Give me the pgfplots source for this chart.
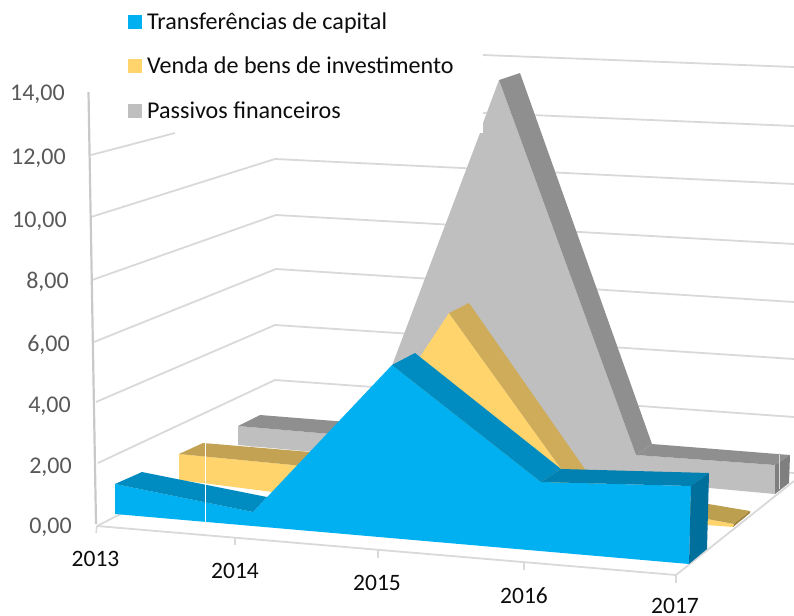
\documentclass[border=0pt]{standalone}
\usepackage{pgfplots}
\pgfplotsset{compat=1.18}
\usepackage{fontspec}
\setmainfont{Carlito}
\definecolor{gridc}{HTML}{D9D9D9}
\definecolor{axisl}{HTML}{C9C9C9}
\definecolor{lab}{HTML}{595959}
\definecolor{txt}{HTML}{0D0D0D}
\definecolor{gF}{HTML}{BFBFBF}
\definecolor{gT}{HTML}{8F8F8F}
\definecolor{gE}{HTML}{7F7F7F}
\definecolor{yF}{HTML}{FFD46C}
\definecolor{yT}{HTML}{C4A253}
\definecolor{yP}{HTML}{CEAC59}
\definecolor{yE}{HTML}{BDA04F}
\definecolor{yD}{HTML}{9C803A}
\definecolor{bF}{HTML}{00B0F0}
\definecolor{bT}{HTML}{008CC0}
\definecolor{bR}{HTML}{0081B1}
\definecolor{bE}{HTML}{006F9C}
\begin{document}
\begin{tikzpicture}
\useasboundingbox (0,0) rectangle (794pt,615pt);
\begin{axis}[at={(0,0)},anchor=south west,scale only axis,width=794pt,height=615pt,
  xmin=0,xmax=794,ymin=0,ymax=615,y dir=reverse,hide axis,no markers,clip mode=global,
  every axis plot/.append style={line join=round}]
% gridlines: left wall and back wall
\addplot[gridc,line width=1.8pt] coordinates {(91,155)(175,133)};
\addplot[gridc,line width=1.8pt] coordinates {(91,217)(275,159)(794,184)};
\addplot[gridc,line width=1.8pt] coordinates {(92,280)(276,215)(794,244)};
\addplot[gridc,line width=1.8pt] coordinates {(94,342)(276,269)(794,302)};
\addplot[gridc,line width=1.8pt] coordinates {(96,402)(275,325)(794,359)};
\addplot[gridc,line width=1.8pt] coordinates {(98,463)(275,380)(794,417)};
\addplot[gridc,line width=1.8pt] coordinates {(483,55)(794,67)};
\addplot[gridc,line width=1.8pt] coordinates {(483,113)(794,126)};
\addplot[gridc,line width=1.8pt] coordinates {(275,435)(794,473)};
% floor and axes
\addplot[gridc,line width=1.8pt] coordinates {(97,526)(275,435)};
\addplot[gridc,line width=1.8pt] coordinates {(794,481)(676,575)};
\addplot[gridc,line width=1.8pt] coordinates {(97,526)(676,575)};
\addplot[gridc,line width=1.5pt] coordinates {(97,526)(96,533)};
\addplot[gridc,line width=1.5pt] coordinates {(235,538)(235,545)};
\addplot[gridc,line width=1.5pt] coordinates {(378,550)(378,558)};
\addplot[gridc,line width=1.5pt] coordinates {(524,563)(524,570)};
\addplot[gridc,line width=1.5pt] coordinates {(676,575)(676,583)};
\addplot[axisl,line width=2.2pt] coordinates {(88.5,92)(96,524)};
% Passivos financeiros
\addplot[draw=none,fill=gF] coordinates {(238,445)(238,426)(365,437)(480,133)(483,133)(483,123)(499,80)(636,455)(775,465)(775,494)} --cycle;
\addplot[draw=none,fill=gT] coordinates {(238,426)(260,415)(385,425)(365,437)} --cycle;
\addplot[draw=none,fill=gT] coordinates {(499,80)(520,73)(652,444)(636,455)} --cycle;
\addplot[draw=none,fill=gT] coordinates {(636,455)(652,444)(790,455)(775,465)} --cycle;
\addplot[draw=none,fill=gE] coordinates {(775,465)(790,455)(789,483)(775,494)} --cycle;
% Venda de bens de investimento
\addplot[draw=none,fill=yF] coordinates {(179,480)(179,454)(345,470)(449,313)(580,495)(734,524)(733,527)(273,492)} --cycle;
\addplot[draw=none,fill=yT] coordinates {(179,454)(203,443)(370,457)(345,470)} --cycle;
\addplot[draw=none,fill=yP] coordinates {(449,313)(469,303)(596,485)(580,495)} --cycle;
\addplot[draw=none,fill=yE] coordinates {(580,495)(596,485)(750,511)(734,524)} --cycle;
\addplot[draw=none,fill=yD] coordinates {(734,524)(750,511)(750,513)(733,527)} --cycle;
% Transferências de capital
\addplot[draw=none,fill=bF] coordinates {(115,514)(115,484)(253,512)(392,365)(541,482)(691,486)(689,564)} --cycle;
\addplot[draw=none,fill=bT] coordinates {(115,484)(142,472)(267,497)(253,512)} --cycle;
\addplot[draw=none,fill=bT] coordinates {(392,365)(415,353)(561,469)(541,482)} --cycle;
\addplot[draw=none,fill=bR] coordinates {(541,482)(561,469)(709,473)(691,486)} --cycle;
\addplot[draw=none,fill=bE] coordinates {(691,486)(709,473)(707,549)(689,564)} --cycle;
% thin artefact lines
\addplot[white,line width=0.7pt] coordinates {(205.5,443)(205.5,523)};
\addplot[gF!60!white,line width=0.7pt] coordinates {(779.5,453)(779.5,489)};
% legend keys
\addplot[draw=none,fill=bF] coordinates {(128,15)(142,15)(142,29)(128,29)} --cycle;
\addplot[draw=none,fill=yF] coordinates {(128,59)(142,59)(142,73)(128,73)} --cycle;
\addplot[draw=none,fill=gF] coordinates {(128,104)(142,104)(142,118)(128,118)} --cycle;
% texts
\def\fs{\fontsize{24}{26}\selectfont}
\def\fl{\fontsize{24.1}{26}\selectfont}
\def\fy{\fontsize{23.5}{26}\selectfont}
\node[anchor=base west,text=txt,inner sep=0pt] at (axis cs:147,30) {\fl Transferências de capital};
\node[anchor=base west,text=txt,inner sep=0pt] at (axis cs:147,74) {\fl Venda de bens de investimento};
\node[anchor=base west,text=txt,inner sep=0pt] at (axis cs:147,118) {\fl Passivos financeiros};
\node[anchor=base east,text=lab,inner sep=0pt] at (axis cs:65,101) {\fs 14,00};
\node[anchor=base east,text=lab,inner sep=0pt] at (axis cs:66,164) {\fs 12,00};
\node[anchor=base east,text=lab,inner sep=0pt] at (axis cs:67,227) {\fs 10,00};
\node[anchor=base east,text=lab,inner sep=0pt] at (axis cs:69,288) {\fs 8,00};
\node[anchor=base east,text=lab,inner sep=0pt] at (axis cs:70,351) {\fs 6,00};
\node[anchor=base east,text=lab,inner sep=0pt] at (axis cs:71,412) {\fs 4,00};
\node[anchor=base east,text=lab,inner sep=0pt] at (axis cs:72,473) {\fs 2,00};
\node[anchor=base east,text=lab,inner sep=0pt] at (axis cs:72,533) {\fs 0,00};
\node[anchor=base,text=txt,inner sep=0pt] at (axis cs:95.5,566) {\fy 2013};
\node[anchor=base,text=txt,inner sep=0pt] at (axis cs:235,578) {\fy 2014};
\node[anchor=base,text=txt,inner sep=0pt] at (axis cs:377,590) {\fy 2015};
\node[anchor=base,text=txt,inner sep=0pt] at (axis cs:524,603) {\fy 2016};
\node[anchor=base,text=txt,inner sep=0pt] at (axis cs:675,613) {\fy 2017};
\end{axis}
\end{tikzpicture}
\end{document}
